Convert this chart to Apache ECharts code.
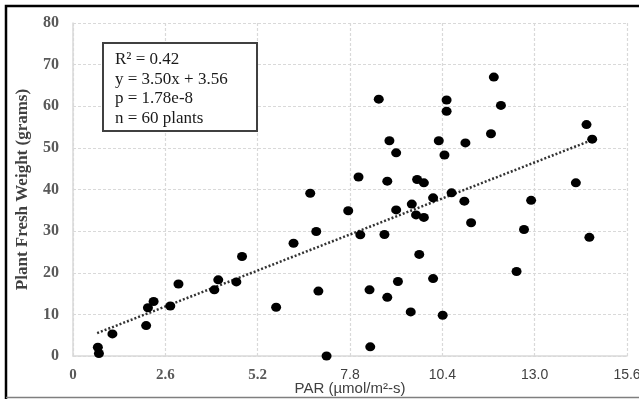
<!DOCTYPE html>
<html>
<head>
<meta charset="utf-8">
<script src="https://cdn.jsdelivr.net/npm/echarts@6/dist/echarts.min.js"></script>
<style>
html,body{margin:0;padding:0;background:#fff;}
#c{width:639px;height:399px;}
</style>
</head>
<body>
<div id="c"></div>
<script>
// PAR values (x) and plant fresh weight (y)
var parX = [
  0.70, 0.73, 1.11, 2.06, 2.11, 2.27, 2.74, 2.97, 3.98, 4.09, 4.60, 4.76,
  5.72, 6.21, 6.68, 6.85, 6.91, 7.14, 7.75, 8.04, 8.09, 8.35, 8.37, 8.61,
  8.77, 8.85, 8.85, 8.91, 9.10, 9.10, 9.15, 9.51, 9.54, 9.66, 9.69, 9.75,
  9.88, 9.88, 10.14, 10.14, 10.30, 10.41, 10.46, 10.52, 10.52, 10.66, 11.02,
  11.05, 11.21, 11.77, 11.85, 12.05, 12.49, 12.70, 12.90, 14.16, 14.46, 14.54, 14.62
];
var weight = [
  2.1, 0.6, 5.3, 7.3, 11.6, 13.1, 12.0, 17.3, 15.9, 18.3, 17.8, 23.9,
  11.7, 27.1, 39.1, 29.9, 15.6, 0.0, 34.9, 43.0, 29.1, 15.9, 2.2, 61.7,
  29.2, 14.1, 42.0, 51.7, 48.8, 35.1, 17.9, 10.6, 36.5, 33.9, 42.4, 24.4,
  33.3, 41.6, 38.0, 18.6, 51.7, 9.8, 48.3, 61.5, 58.8, 39.2, 37.2,
  51.2, 32.0, 53.4, 67.0, 60.2, 20.3, 30.4, 37.4, 41.6, 55.6, 28.5, 52.1
];
// dotted trend line end points as drawn
var trendX = [0.68, 14.62];
var trendY = [5.5, 51.9];
var xTicks = ['0', '2.6', '5.2', '7.8', '10.4', '13.0', '15.6'];
var yTicks = ['0', '10', '20', '30', '40', '50', '60', '70', '80'];
var statLines = ['R\u00B2 = 0.42', 'y = 3.50x + 3.56', 'p = 1.78e-8', 'n = 60 plants'];

var pts = parX.map(function (x, i) { return [x, weight[i]]; });
var trend = trendX.map(function (x, i) { return [x, trendY[i]]; });

var chart = echarts.init(document.getElementById('c'), null, {renderer: 'canvas'});
var serif = '"Liberation Serif", "Times New Roman", serif';
var sans = '"Liberation Sans", Arial, sans-serif';

chart.setOption({
  animation: false,
  backgroundColor: '#ffffff',
  grid: {left: 73, right: 12, top: 23, bottom: 43, containLabel: false, outerBoundsMode: 'none'},
  xAxis: {
    type: 'value', min: 0, max: 15.6, interval: 2.6,
    name: 'PAR (\u00B5mol/m\u00B2-s)', nameLocation: 'middle', nameGap: 25,
    nameMoveOverlap: false,
    nameTextStyle: {fontFamily: sans, fontSize: 15, color: '#404040'},
    axisLine: {show: true, lineStyle: {color: '#d9d9d9', width: 1.5}},
    axisTick: {show: false},
    splitLine: {show: true, lineStyle: {color: '#d9d9d9', type: [3, 2], width: 1.2}},
    axisLabel: {
      margin: 12,
      formatter: function (v) {
        var i = Math.round(v / 2.6);
        var t = xTicks[i];
        return i < 3 ? '{s|' + t + '}' : '{a|' + t + '}';
      },
      rich: {
        s: {fontFamily: serif, fontWeight: 'bold', fontSize: 15, color: '#595959'},
        a: {fontFamily: sans, fontSize: 14, color: '#404040'}
      }
    }
  },
  yAxis: {
    type: 'value', min: 0, max: 80, interval: 10,
    name: 'Plant Fresh Weight (grams)', nameLocation: 'middle', nameGap: 42,
    nameMoveOverlap: false,
    nameTextStyle: {fontFamily: serif, fontWeight: 'bold', fontSize: 17, color: '#404040'},
    axisLine: {show: true, lineStyle: {color: '#d9d9d9', width: 1.5}},
    axisTick: {show: false},
    splitLine: {show: true, lineStyle: {color: '#d9d9d9', type: [3, 2], width: 1.2}},
    axisLabel: {
      margin: 14,
      fontFamily: serif, fontWeight: 'bold', fontSize: 16, color: '#595959',
      formatter: function (v) { return yTicks[Math.round(v / 10)]; }
    }
  },
  series: [
    {
      type: 'line', data: trend, symbol: 'none', silent: true, z: 3,
      lineStyle: {color: '#333333', width: 2.5, type: [2, 2]}
    },
    {
      type: 'scatter', data: pts, symbol: 'circle', symbolSize: [10, 9], z: 4,
      itemStyle: {color: '#000000', opacity: 1}
    }
  ],
  graphic: [
    {type: 'rect', shape: {x: 103, y: 43, width: 154, height: 88},
     style: {fill: '#ffffff', stroke: '#404040', lineWidth: 2}, z: 10},
    {type: 'text', left: 115, top: 50, z: 11,
     style: {text: statLines.join('\n'), fontFamily: serif, fontSize: 17, lineHeight: 19.5, fill: '#1a1a1a'}},
    {type: 'polyline', shape: {points: [[6, 399], [6, 6], [639, 6]]},
     style: {stroke: '#000000', lineWidth: 2.5, fill: null}, z: 20},
    {type: 'line', shape: {x1: 6, y1: 397.5, x2: 639, y2: 397.5},
     style: {stroke: '#7f7f7f', lineWidth: 1.5}, z: 20}
  ]
});
</script>
</body>
</html>
